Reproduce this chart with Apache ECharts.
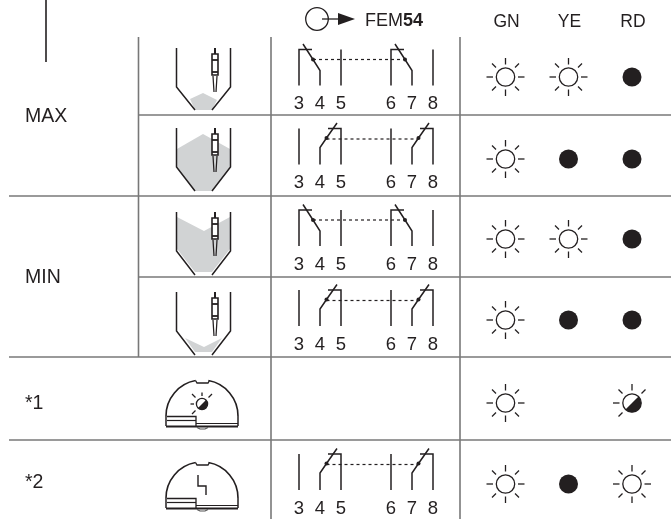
<!DOCTYPE html>
<html>
<head>
<meta charset="utf-8">
<style>
  html, body { margin: 0; padding: 0; background: #fff; }
  #chart { width: 671px; height: 519px; }
</style>
<script src="https://cdn.jsdelivr.net/npm/echarts@6/dist/echarts.min.js"></script>
</head>
<body>
<div id="chart"></div>
<script>
// table content
const groupLabels = ["MAX", "MIN", "*1", "*2"];
const ledHeaders = ["GN", "YE", "RD"];
const terminals = ["3", "4", "5", "6", "7", "8"];
// one entry per table row: on = lit, off = dark, half = flashing
const ledGN = ["on", "on", "on", "on", "on", "on"];
const ledYE = ["on", "off", "on", "off", "none", "off"];
const ledRD = ["off", "off", "off", "off", "half", "on"];
// a = relay released, b = relay pulled in, none = no symbol
const relayStates = ["a", "b", "a", "b", "none", "b"];
const tankLevels = ["lowHigh", "high", "highLow", "low"];
const deviceIcons = ["sun", "fault"];

// layout, in picture pixels
const INK = "#231f20", RULE = "#787878", FILL = "#d1d3d4";
const FONT = '"Liberation Sans", Arial, sans-serif';
const ledX = [505.5, 568.5, 632];
const ledY = [77, 159, 239, 320, 403, 484];
const relayY = [49.5, 128.5, 210, 290, 0, 454];
const tankY = [48, 128, 212, 292];
const deviceY = [0, 82];
const labelY = [116.5, 277.5, 403.5, 482.5];
const terminalX = [299, 320, 341, 391, 412, 433];
const rules = [
  [46, 0, 46, 62, INK], [138.5, 37, 138.5, 357], [271, 37, 271, 519], [460, 37, 460, 519],
  [138, 115, 671, 115], [9, 196, 671, 196], [138, 277, 671, 277], [9, 357, 671, 357], [9, 440, 671, 440]
];
// surface of the fill inside a tank, relative to the tank top
const fillShapes = {
  lowHigh: [[190, 51], [203, 45], [217, 52], [212, 62], [195, 62]],
  high: [[177, 21], [203, 6], [230, 21], [230, 40], [212, 63], [195, 63], [177, 40]],
  highLow: [[177, 5], [204, 19], [230, 5], [230, 37], [212, 60], [195, 60], [177, 37]],
  low: [[185, 46], [204, 55], [222, 46], [212, 60], [195, 60]]
};

function line(api, pts, width, color, dash) {
  return {
    type: "polyline",
    shape: { points: pts.map(p => api.coord(p)) },
    style: { fill: null, stroke: color || INK, lineWidth: width || 1.5, lineDash: dash || null }
  };
}
function label(api, text, x, y, size, align, weight) {
  const p = api.coord([x, y]);
  return {
    type: "text",
    style: {
      text: text, x: p[0], y: p[1], fill: INK,
      font: (weight || "normal") + " " + size + "px " + FONT,
      textAlign: align || "center", textVerticalAlign: "middle"
    }
  };
}
function disc(api, x, y, r, fill, stroke) {
  const p = api.coord([x, y]);
  return {
    type: "circle",
    shape: { cx: p[0], cy: p[1], r: r },
    style: { fill: fill, stroke: stroke || null, lineWidth: 1.3 }
  };
}
function rays(api, x, y, r1, r2, d1, d2, half) {
  const out = [];
  const all = half
    ? [[-1, 0], [0, -1], [-0.7, -0.7], [0.7, -0.7], [-0.7, 0.7]]
    : [[-1, 0], [1, 0], [0, -1], [0, 1], [-0.7, -0.7], [0.7, -0.7], [-0.7, 0.7], [0.7, 0.7]];
  all.forEach(v => {
    const diag = v[0] && v[1];
    const a = diag ? d1 / 0.7 : r1, b = diag ? d2 / 0.7 : r2;
    out.push(line(api, [[x + v[0] * a, y + v[1] * a], [x + v[0] * b, y + v[1] * b]], 1.3));
  });
  return out;
}
function halfSun(api, x, y, r) {
  const p = api.coord([x, y]);
  return {
    type: "sector",
    shape: { cx: p[0], cy: p[1], r0: 0, r: r, startAngle: -Math.PI / 4, endAngle: 3 * Math.PI / 4, clockwise: true },
    style: { fill: INK }
  };
}

function renderRules(params, api) {
  const r = rules[api.value(0)];
  return line(api, [[r[0], r[1]], [r[2], r[3]]], 1.6, r[4] || RULE);
}

function renderTank(params, api) {
  const i = api.value(0), t = tankY[i];
  const cy = (i === 0) ? 62 : 63;
  const poly = fillShapes[tankLevels[i]].map(p => api.coord([p[0], p[1] + t]));
  const px = 215;
  return {
    type: "group",
    children: [
      { type: "polygon", shape: { points: poly }, style: { fill: FILL } },
      line(api, [[176.5, t], [176.5, t + 39], [195, t + cy]]),
      line(api, [[230.5, t], [230.5, t + 39], [212, t + cy]]),
      line(api, [[px, t], [px, t + 6]], 2),
      { type: "rect", shape: { x: api.coord([px - 3, 0])[0], y: api.coord([0, t + 6])[1], width: 6, height: 21 },
        style: { fill: "#fff", stroke: INK, lineWidth: 1.6 } },
      line(api, [[px - 3, t + 12], [px + 3, t + 12]], 1.8),
      line(api, [[px - 3, t + 24], [px + 3, t + 24]], 1.8),
      line(api, [[px - 2, t + 28], [px - 1, t + 44]], 1.3),
      line(api, [[px + 2, t + 28], [px + 1, t + 44]], 1.3)
    ]
  };
}

function renderRelay(params, api) {
  const i = api.value(0), y = relayY[i], state = relayStates[i];
  if (state === "none") return null;
  const kids = [];
  const bottom = y + 36;
  [0, 3].forEach(k => {
    const a = terminalX[k], b = terminalX[k + 1], c = terminalX[k + 2];
    if (state === "a") {
      kids.push(line(api, [[a, bottom], [a, y], [a + 13, y]]));
      kids.push(line(api, [[a + 4, y - 5.5], [b - 7, y + 10], [b, y + 21], [b, bottom]]));
      kids.push(line(api, [[c, y], [c, bottom]]));
      kids.push(disc(api, b - 7, y + 10, 2, INK));
    } else {
      kids.push(line(api, [[a, y], [a, bottom]]));
      kids.push(line(api, [[b, bottom], [b, y + 19], [b + 6.5, y + 9.5], [b + 17, y - 5.5]]));
      kids.push(line(api, [[c - 13, y], [c, y], [c, bottom]]));
      kids.push(disc(api, b + 6.5, y + 9.5, 2, INK));
    }
  });
  const dashY = y + (state === "a" ? 10 : 10.5);
  const from = state === "a" ? 313 : 326.5, to = state === "a" ? 405 : 418.5;
  kids.push(line(api, [[from, dashY], [to, dashY]], 1.2, INK, [3, 3]));
  terminals.forEach((t, k) => kids.push(label(api, t, terminalX[k], y + 54.5, 18.5)));
  return { type: "group", children: kids };
}

function renderLed(params, api) {
  const c = api.value(0), r = api.value(1), state = api.value(2);
  const x = ledX[c], y = ledY[r];
  const stateName = ["none", "off", "on", "half"][state];
  if (stateName === "none") return null;
  if (stateName === "off") return disc(api, x, y, 9.5, INK);
  if (stateName === "on") {
    return { type: "group", children: [disc(api, x, y, 9.2, "#fff", INK)].concat(rays(api, x, y, 12.5, 19, 9.5, 13.5)) };
  }
  return {
    type: "group",
    children: [disc(api, x, y, 9.2, "#fff", INK), halfSun(api, x, y, 9.2)].concat(rays(api, x, y, 12.5, 19, 9.5, 13.5, true))
  };
}

function renderDevice(params, api) {
  const i = api.value(0), dy = deviceY[i];
  const c = api.coord([202, 416 + dy]);
  const a = 0.18;
  const arc = (s, e) => ({
    type: "arc",
    shape: { cx: c[0], cy: c[1], r: 36, startAngle: s, endAngle: e, clockwise: true },
    style: { fill: null, stroke: INK, lineWidth: 1.6 }
  });
  const kids = [
    arc(Math.PI, 1.5 * Math.PI - a),
    arc(1.5 * Math.PI + a, 2 * Math.PI),
    line(api, [[195.5, 380.5 + dy], [197, 383 + dy], [208, 383 + dy], [209.5, 380.5 + dy]], 1.3),
    line(api, [[166, 416 + dy], [166, 426 + dy]], 1.5),
    line(api, [[238, 416 + dy], [238, 426 + dy]], 1.5),
    line(api, [[167, 416.5 + dy], [196, 416.5 + dy], [196, 426 + dy]], 1.3),
    line(api, [[167, 420.5 + dy], [196, 420.5 + dy]], 1.2),
    line(api, [[196, 423.5 + dy], [238, 423.5 + dy]], 1.2),
    line(api, [[166, 426.5 + dy], [238, 426.5 + dy]], 2),
    line(api, [[197, 427.5 + dy], [200, 429 + dy], [205, 429 + dy], [208, 427.5 + dy]], 1.2, "#555")
  ];
  if (deviceIcons[i] === "sun") {
    kids.push(disc(api, 202, 404, 5.6, "#fff", INK), halfSun(api, 202, 404, 5.6));
    rays(api, 202, 404, 8, 11.5, 6.5, 10, true).forEach(k => kids.push(k));
  } else {
    kids.push(line(api, [[198, 475], [198, 486], [206, 486], [206, 495]], 1.4));
  }
  return { type: "group", children: kids };
}

function renderText(params, api) {
  const kids = [];
  kids.push(disc(api, 317, 19, 11.3, "#fff", INK));
  kids.push(line(api, [[322, 19], [340, 19]], 1.3));
  kids.push({
    type: "polygon",
    shape: { points: [[338, 13], [355, 19], [338, 25]].map(q => api.coord(q)) },
    style: { fill: INK }
  });
  kids.push(label(api, "FEM", 365, 21, 18, "left"));
  kids.push(label(api, "54", 403, 21, 18, "left", "bold"));
  ledHeaders.forEach((t, k) => kids.push(label(api, t, ledX[k] + 1, 22, 17.5)));
  groupLabels.forEach((t, k) => kids.push(label(api, t, 25, labelY[k], 19.5, "left")));
  return { type: "group", children: kids };
}

const ledCode = { none: 0, off: 1, on: 2, half: 3 };
const ledData = [];
[ledGN, ledYE, ledRD].forEach((col, c) => {
  col.forEach((s, r) => ledData.push([c, r, ledCode[s]]));
});
const custom = (renderItem, data) => ({
  type: "custom", renderItem: renderItem, data: data, coordinateSystem: "cartesian2d",
  silent: true, animation: false, clip: false
});

const myChart = echarts.init(document.getElementById("chart"), null, { renderer: "canvas" });
myChart.setOption({
  backgroundColor: "#fff",
  animation: false,
  grid: { left: 0, right: 0, top: 0, bottom: 0 },
  xAxis: { type: "value", min: 0, max: 671, show: false },
  yAxis: { type: "value", min: 0, max: 519, inverse: true, show: false },
  series: [
    custom(renderRules, rules.map((r, i) => [i])),
    custom(renderTank, tankLevels.map((r, i) => [i])),
    custom(renderRelay, relayStates.map((r, i) => [i])),
    custom(renderLed, ledData),
    custom(renderDevice, deviceIcons.map((r, i) => [i])),
    custom(renderText, [[0]])
  ]
});
</script>
</body>
</html>
